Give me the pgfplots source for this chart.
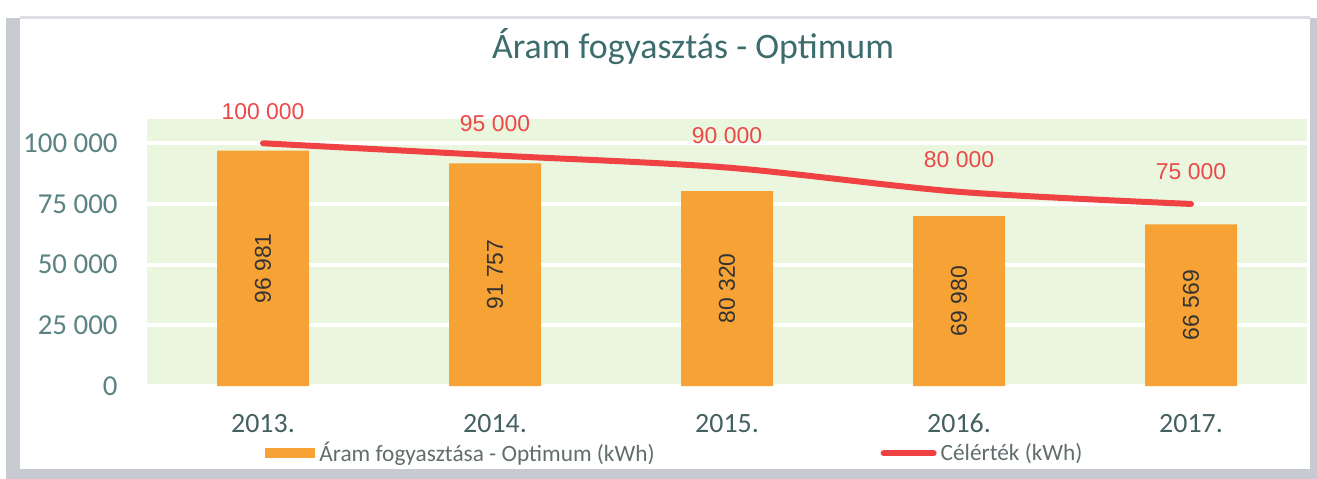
\documentclass[border=0pt]{standalone}
\usepackage{pgfplots}
\pgfplotsset{compat=1.18}
\usepackage{fontspec}
\setmainfont{Carlito}
\newfontfamily\arialf{Liberation Sans}
\definecolor{barorange}{RGB}{247,162,52}
\definecolor{linered}{RGB}{240,66,66}
\definecolor{labred}{RGB}{236,72,72}
\definecolor{bggreen}{RGB}{234,247,222}
\definecolor{ticky}{RGB}{92,130,130}
\definecolor{tickx}{RGB}{68,96,96}
\definecolor{titlecol}{RGB}{60,108,108}
\definecolor{legcol}{RGB}{98,110,110}
\definecolor{framegray}{RGB}{200,202,210}
\begin{document}
\begin{tikzpicture}
\begin{scope}[shift={(-73.5bp,193bp)}, x=0.5bp, y=-0.5bp]
\useasboundingbox (0,0) rectangle (1317,479);
\fill[white] (0,0) rectangle (1317,479);
\fill[framegray] (6,18) rectangle (20,479);
\fill[framegray!60] (20,16) rectangle (1310,19);
\fill[framegray] (1310,18) rectangle (1317,479);
\fill[framegray] (6,469) rectangle (1317,479);
\end{scope}
\begin{axis}[
  at={(0,0)}, anchor=south west,
  scale only axis, width=580bp, height=133.5bp,
  clip=false,
  xmin=-0.5, xmax=4.5, ymin=0, ymax=110000,
  xtick={0,1,2,3,4}, xticklabels={2013.,2014.,2015.,2016.,2017.},
  ytick={0,25000,50000,75000,100000},
  scaled y ticks=false,
  axis line style={draw=none},
  major tick length=0pt,
  ymajorgrids, grid style={white, line width=2bp},
  axis background/.style={fill=bggreen},
  /pgf/number format/fixed,
  /pgf/number format/1000 sep={\ },
  /pgf/number format/assume math mode=true,
  yticklabel style={font=\fontsize{14.5}{16}\selectfont, text=ticky, anchor=east, inner sep=0pt, xshift=-14.5bp},
  xticklabel style={font=\fontsize{14}{16}\selectfont, text=tickx, anchor=base, inner sep=0pt, yshift=-23bp},
  title={Áram fogyasztás - Optimum},
  title style={at={(0.4707,1.18)}, anchor=base, font=\fontsize{18}{20}\selectfont, text=titlecol, inner sep=0pt},
  legend style={at={(0.1017,-0.252)}, anchor=west, draw=none, fill=none, inner sep=0pt,
    font=\fontsize{11.7}{13}\selectfont, text=legcol,
    /tikz/every even column/.append style={column sep=111bp}},
  legend columns=2,
  legend cell align=left,
]
\addplot[ybar, bar width=46bp, fill=barorange, draw=none,
  nodes near coords,
  visualization depends on=y \as \rawy,
  every node near coord/.append style={shift={(axis direction cs:0,-\rawy/2)}, rotate=90, anchor=center,
    font=\arialf\fontsize{11.5}{12}\selectfont, text=black!80},
  legend image code/.code={\fill[barorange] (0bp,-2.5bp) rectangle (25bp,2.5bp);}
] coordinates {(0,96981) (1,91757) (2,80320) (3,69980) (4,66569)};
\addlegendentry{Áram fogyasztása - Optimum (kWh)}
\addplot[linered, line width=3bp, smooth, line cap=round, mark=none,
  nodes near coords,
  every node near coord/.append style={anchor=center, yshift=16bp,
    font=\arialf\fontsize{11.5}{12}\selectfont, text=labred},
  legend image code/.code={\draw[linered, line width=3bp, line cap=round] (1.5bp,0) -- (26.5bp,0);}
] coordinates {(0,100000) (1,95000) (2,90000) (3,80000) (4,75000)};
\addlegendentry{Célérték (kWh)}
\end{axis}
\end{tikzpicture}
\end{document}
